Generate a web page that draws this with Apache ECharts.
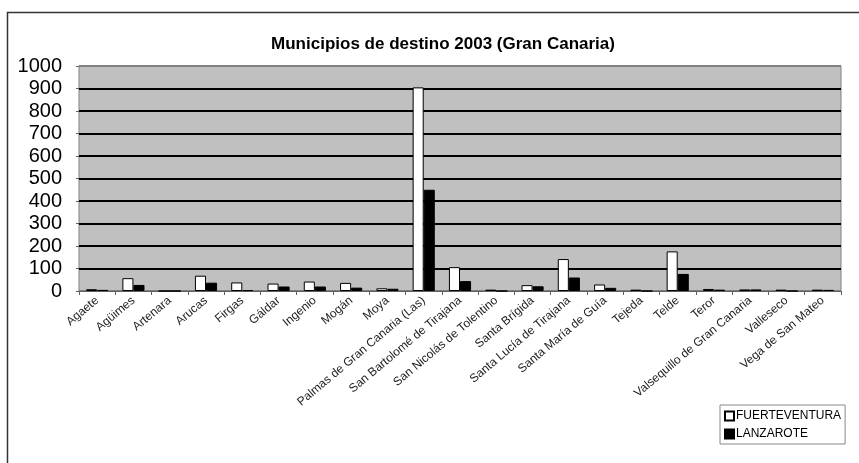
<!DOCTYPE html>
<html>
<head>
<meta charset="utf-8">
<script src="https://cdn.jsdelivr.net/npm/echarts@6/dist/echarts.min.js"></script>
<style>
html,body{margin:0;padding:0;background:#fff;}
#c{width:859px;height:463px;}
</style>
</head>
<body>
<div id="c"></div>
<script>
var categories = ['Agaete','Agüimes','Artenara','Arucas','Firgas','Gáldar','Ingenio','Mogán','Moya','Palmas de Gran Canaria (Las)','San Bartolomé de Tirajana','San Nicolás de Tolentino','Santa Brígida','Santa Lucía de Tirajana','Santa María de Guía','Tejeda','Telde','Teror','Valsequillo de Gran Canaria','Valleseco','Vega de San Mateo'];
var fuerteventura = [8,57,0,68,38,33,42,36,12,905,106,6,26,142,29,6,176,9,7,6,6];
var lanzarote = [5,27,0,37,4,20,20,15,10,450,44,0,21,60,14,0,76,6,7,0,5];
var yTicks = [0,100,200,300,400,500,600,700,800,900,1000];
var chartTitle = 'Municipios de destino 2003 (Gran Canaria)';

var splitColors = yTicks.map(function(v,i){ return (i===0||i===yTicks.length-1) ? '#808080' : '#000000'; });

var chart = echarts.init(document.getElementById('c'));
chart.setOption({
  backgroundColor:'#ffffff',
  animation:false,
  textStyle:{fontFamily:'Liberation Sans, Arial, sans-serif'},
  title:{
    text:chartTitle,
    left:438, top:31, textAlign:'center',
    textStyle:{fontSize:17,fontWeight:'bold',color:'#000',fontFamily:'Liberation Sans, Arial, sans-serif'}
  },
  graphic:[{
    type:'rect', left:5, top:10, silent:true,
    shape:{x:0,y:0,width:900,height:500},
    style:{fill:'none',stroke:'#333',lineWidth:1.5}
  }],
  legend:{
    orient:'vertical', left:720, top:405,
    itemWidth:9, itemHeight:9, itemGap:6,
    padding:[5,4,4,4],
    borderColor:'#888', borderWidth:1,
    icon:'rect',
    textStyle:{fontSize:12,color:'#000',padding:[0,0,0,-3]},
    data:['FUERTEVENTURA','LANZAROTE']
  },
  grid:{left:79,right:18,top:66,bottom:172,show:true,backgroundColor:'#c0c0c0',borderColor:'#808080',borderWidth:1},
  xAxis:{
    type:'category', data:categories,
    axisLine:{lineStyle:{color:'#606060',width:1}},
    axisTick:{show:true,length:4,lineStyle:{color:'#606060'}},
    axisLabel:{rotate:40,fontSize:12,color:'#222',margin:8,interval:0}
  },
  yAxis:{
    type:'value', min:0, max:1000, interval:100,
    axisLine:{show:false},
    axisTick:{show:true,length:3,lineStyle:{color:'#606060'}},
    axisLabel:{fontSize:20,color:'#000',margin:17,formatter:function(v){return String(v);}},
    splitLine:{show:true,lineStyle:{color:splitColors,width:2}}
  },
  series:[
    {name:'FUERTEVENTURA',type:'bar',data:fuerteventura,barGap:'0%',barCategoryGap:'39%',
     itemStyle:{color:'#ffffff',borderColor:'#000',borderWidth:1}},
    {name:'LANZAROTE',type:'bar',data:lanzarote,
     itemStyle:{color:'#000000',borderColor:'#000',borderWidth:1}}
  ]
});
</script>
</body>
</html>
